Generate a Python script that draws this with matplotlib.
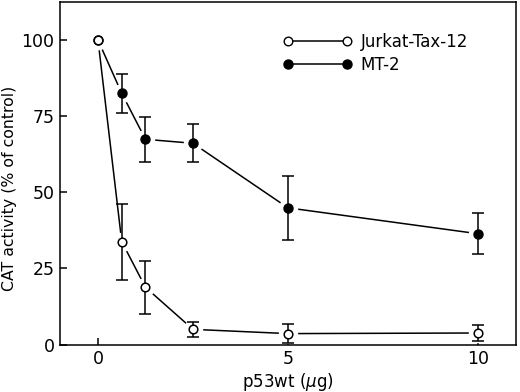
import matplotlib
matplotlib.use('Agg')
import matplotlib.pyplot as plt
from matplotlib.lines import Line2D

plt.rcParams['font.family'] = ['DejaVu Sans']

dose = [0, 0.625, 1.25, 2.5, 5, 10]
jurkat = [100, 33.8, 18.8, 5.0, 3.6, 3.8]
jurkat_err = [0, 12.5, 8.7, 2.5, 3.0, 2.5]
mt2 = [100, 82.5, 67.4, 66.1, 44.9, 36.4]
mt2_err = [0, 6.3, 7.4, 6.2, 10.5, 6.8]

fig = plt.figure(figsize=(5.2, 3.92), dpi=100)
ax = fig.add_axes([0.1154, 0.121, 0.8766, 0.874])

lw = 1.1
# lines, then white halos so the lines stop short of the markers
ax.plot(dose, mt2, color='black', lw=lw, zorder=1)
ax.plot(dose, jurkat, color='black', lw=lw, zorder=1)
ax.plot(dose, mt2, ls='none', marker='o', ms=13, mfc='white', mec='white', zorder=2)
ax.plot(dose, jurkat, ls='none', marker='o', ms=13, mfc='white', mec='white', zorder=2)

ax.errorbar(dose[1:], mt2[1:], yerr=mt2_err[1:], fmt='none', ecolor='black',
            elinewidth=lw, capsize=4, capthick=lw, zorder=3)
ax.errorbar(dose[1:], jurkat[1:], yerr=jurkat_err[1:], fmt='none', ecolor='black',
            elinewidth=lw, capsize=4, capthick=lw, zorder=3)

ax.plot(dose, mt2, ls='none', marker='o', ms=6.5, mfc='black', mec='black', zorder=4)
ax.plot(dose, jurkat, ls='none', marker='o', ms=6.2, mfc='white', mec='black',
        mew=1.1, zorder=5)

ax.set_xlim(-1, 11)
ax.set_ylim(0, 112.5)
ax.set_xticks([0, 5, 10])
ax.set_yticks([0, 25, 50, 75, 100])
ax.tick_params(direction='in', length=5, width=1.1, labelsize=12.5, pad=4)
for s in ax.spines.values():
    s.set_linewidth(1.1)

ax.set_xlabel(r'p53wt ($\mu$g)', fontsize=12, labelpad=2)
ax.set_ylabel('CAT activity (% of control)', fontsize=11.3)
ax.yaxis.set_label_coords(-0.094, 0.455)

handles = [
    Line2D([], [], color='black', lw=lw, marker='o', ms=6.2, mfc='white', mec='black'),
    Line2D([], [], color='black', lw=lw, marker='o', ms=6.5, mfc='black', mec='black'),
]
ax.legend(handles, ['Jurkat-Tax-12', 'MT-2'], loc='upper left', bbox_to_anchor=(0.457, 0.954),
          frameon=False, numpoints=2, handlelength=4.1, fontsize=12, labelspacing=0.3,
          handletextpad=0.55)

fig.savefig('out.png', dpi=100)
